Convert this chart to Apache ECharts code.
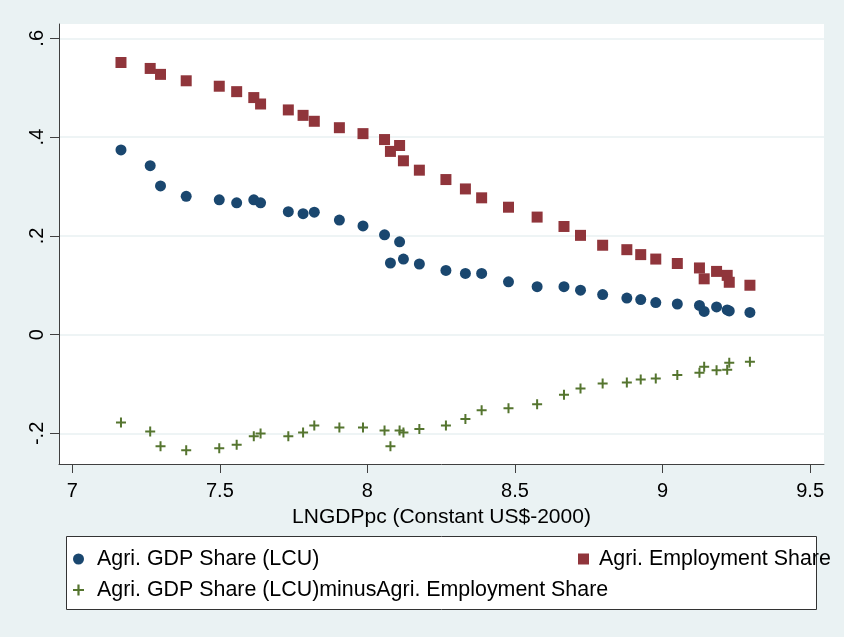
<!DOCTYPE html>
<html>
<head>
<meta charset="utf-8">
<script src="https://cdn.jsdelivr.net/npm/echarts@6/dist/echarts.min.js"></script>
<style>
html,body{margin:0;padding:0;background:#EAF2F3;}
#chart{width:844px;height:637px;}
</style>
</head>
<body>
<div id="chart"></div>
<script>
// LN GDP per capita (constant US$ 2000)
const lnGdp = [7.165,7.264,7.299,7.386,7.498,7.557,7.615,7.638,7.732,7.782,7.820,7.905,7.985,8.058,8.109,8.078,8.122,8.176,8.266,8.332,8.387,8.478,8.575,8.666,8.722,8.797,8.879,8.926,8.977,9.050,9.125,9.141,9.183,9.219,9.226,9.296];
// Agri. GDP Share (LCU)
const gdpShare = [0.374,0.342,0.301,0.280,0.273,0.267,0.273,0.267,0.249,0.245,0.248,0.232,0.220,0.202,0.188,0.145,0.153,0.143,0.130,0.124,0.124,0.107,0.097,0.097,0.090,0.081,0.074,0.071,0.065,0.062,0.059,0.047,0.056,0.050,0.048,0.045];
// Agri. Employment Share
const empShare = [0.551,0.539,0.527,0.514,0.503,0.492,0.480,0.467,0.455,0.444,0.432,0.419,0.407,0.395,0.383,0.371,0.352,0.333,0.314,0.295,0.277,0.258,0.238,0.219,0.201,0.181,0.172,0.162,0.153,0.144,0.135,0.113,0.128,0.120,0.106,0.100];
// Agri. GDP Share (LCU) minus Agri. Employment Share
const gapShare = [-0.178,-0.196,-0.226,-0.234,-0.230,-0.223,-0.206,-0.200,-0.206,-0.198,-0.184,-0.188,-0.188,-0.194,-0.194,-0.226,-0.198,-0.191,-0.184,-0.171,-0.153,-0.149,-0.141,-0.122,-0.109,-0.099,-0.097,-0.091,-0.089,-0.082,-0.077,-0.065,-0.072,-0.071,-0.057,-0.055];

const xTicks = [7, 7.5, 8, 8.5, 9, 9.5];
const yTicks = [-0.2, 0, 0.2, 0.4, 0.6];

const names = ['Agri. GDP Share (LCU)', 'Agri. Employment Share', 'Agri. GDP Share (LCU)minusAgri. Employment Share'];

const pair = (ys) => lnGdp.map((x, i) => [x, ys[i]]);
const FONT = "'Liberation Sans', Arial, sans-serif";
const plusPath = 'path://M4,0h2v4h4v2h-4v4h-2v-4h-4v-2h4z';

const legendText = (pad) => ({fontSize: 21.4, color: '#000', fontFamily: FONT, lineHeight: 22, padding: [0,0,0,pad]});

const chart = echarts.init(document.getElementById('chart'), null, {renderer: 'canvas'});
chart.setOption({
  backgroundColor: '#EAF2F3',
  animation: false,
  textStyle: {fontFamily: FONT},
  grid: {left: 59, right: 20, top: 24, bottom: 173, show: true, backgroundColor: '#ffffff', borderWidth: 0},
  xAxis: {
    type: 'value',
    min: 6.955, max: 9.547,
    name: 'LNGDPpc (Constant US$-2000)',
    nameLocation: 'middle',
    nameGap: 37,
    nameTextStyle: {fontSize: 21, color: '#000', fontFamily: FONT, lineHeight: 22},
    axisLine: {show: true, onZero: false, lineStyle: {color: '#404040', width: 1}},
    axisTick: {show: true, length: 9, customValues: xTicks, lineStyle: {color: '#404040', width: 1}},
    axisLabel: {customValues: xTicks, margin: 17, fontSize: 20, color: '#000', fontFamily: FONT,
      formatter: v => String(v)},
    splitLine: {show: false}
  },
  yAxis: {
    type: 'value',
    min: -0.262, max: 0.629,
    axisLine: {show: true, onZero: false, lineStyle: {color: '#404040', width: 1}},
    axisTick: {show: true, length: 9, customValues: yTicks, lineStyle: {color: '#404040', width: 1}},
    axisLabel: {customValues: yTicks, rotate: 90, margin: 12, fontSize: 20, color: '#000', fontFamily: FONT,
      formatter: v => {
        const r = Math.round(v * 10) / 10;
        if (r === 0) return '0';
        return r.toString().replace('0.', '.');
      }},
    splitLine: {show: true, lineStyle: {color: '#E8F0F2', width: 1.5}}
  },
  graphic: [{
    type: 'rect', z: 0, left: 66, top: 536,
    shape: {x: 0, y: 0, width: 750, height: 73},
    style: {fill: '#ffffff', stroke: '#333333', lineWidth: 1}
  }],
  legend: [
    {data: [names[0]], left: 73, top: 548, padding: 0, itemWidth: 11, itemHeight: 11, z: 10, selectedMode: false,
     textStyle: legendText(8)},
    {data: [names[1]], left: 578, top: 548, padding: 0, itemWidth: 11, itemHeight: 11, z: 10, selectedMode: false,
     textStyle: legendText(5)},
    {data: [names[2]], left: 73, top: 579, padding: 0, itemWidth: 11, itemHeight: 11, z: 10, selectedMode: false,
     textStyle: legendText(8)}
  ],
  series: [
    {name: names[0], type: 'scatter', symbol: 'circle', symbolSize: 11,
     itemStyle: {color: '#1a476f', opacity: 1}, data: pair(gdpShare)},
    {name: names[1], type: 'scatter', symbol: 'rect', symbolSize: 11,
     itemStyle: {color: '#90353b', opacity: 1}, data: pair(empShare)},
    {name: names[2], type: 'scatter', symbol: plusPath, symbolSize: 10,
     itemStyle: {color: '#55752f', opacity: 1}, data: pair(gapShare)}
  ]
});
</script>
</body>
</html>
